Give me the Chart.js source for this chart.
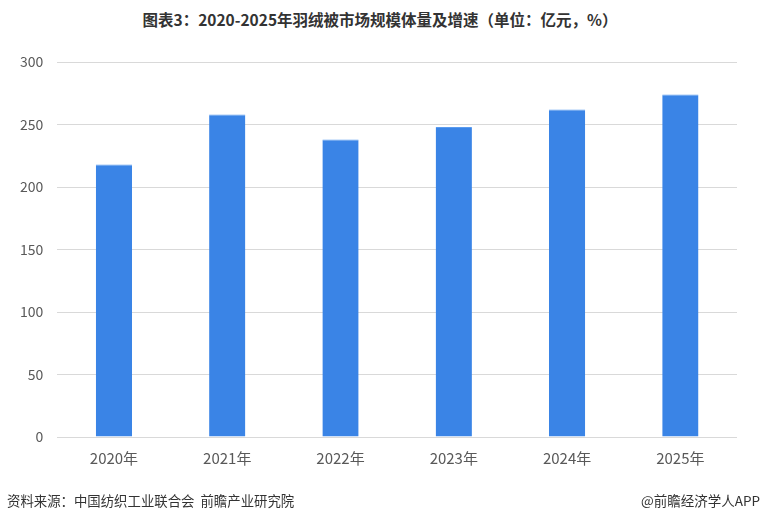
<!DOCTYPE html>
<html>
<head>
<meta charset="utf-8">
<script src="https://cdn.jsdelivr.net/npm/chart.js@4"></script>
<style>
  body { margin: 0; background: #fff; }
  #wrap { position: relative; width: 760px; height: 523px; overflow: hidden; font-family: "Noto Sans CJK SC", "Noto Sans", sans-serif; }
  #title { position: absolute; top: 8px; left: 0; width: 760px; text-align: center; font-size: 15.5px; font-weight: bold; color: #333; }
  #chartBox { position: absolute; top: 0; left: 0; width: 760px; height: 496px; }
  #src { position: absolute; left: 7px; top: 490px; font-size: 13.4px; color: #333; white-space: pre; }
  #brand { position: absolute; right: 0; top: 490px; font-size: 13.5px; color: #333; }
</style>
</head>
<body>
<div id="wrap">
  <div id="title">图表3：2020-2025年羽绒被市场规模体量及增速（单位：亿元，%）</div>
  <div id="chartBox"><canvas id="c"></canvas></div>
  <div id="src">资料来源：中国纺织工业联合会  前瞻产业研究院</div>
  <div id="brand">@前瞻经济学人APP</div>
</div>
<script>
// 羽绒被市场规模（亿元）
const years = ['2020年', '2021年', '2022年', '2023年', '2024年', '2025年'];
const marketSize = [218, 258, 238, 248, 262, 274];
const yTicks = [0, 50, 100, 150, 200, 250, 300];

const tickColor = '#595959';

new Chart(document.getElementById('c'), {
  type: 'bar',
  data: {
    labels: years,
    datasets: [{
      data: marketSize,
      backgroundColor: '#3a84e6',
      borderColor: '#5a9bef',
      borderWidth: { top: 1, left: 0, right: 0, bottom: 0 },
      categoryPercentage: 1,
      barPercentage: 0.32
    }]
  },
  options: {
    responsive: true,
    maintainAspectRatio: false,
    animation: false,
    layout: { padding: { top: 62, left: 6, right: 23, bottom: 25 } },
    plugins: { legend: { display: false }, tooltip: { enabled: false } },
    scales: {
      x: {
        grid: { display: false },
        border: { display: false },
        ticks: { color: tickColor, font: { family: 'Noto Sans CJK SC', size: 15 }, padding: 4 }
      },
      y: {
        min: 0,
        max: 300,
        afterBuildTicks: axis => { axis.ticks = yTicks.map(v => ({ value: v })); },
        grid: { color: '#d9d9d9', drawTicks: false },
        border: { display: false },
        ticks: { color: tickColor, font: { family: 'Noto Sans CJK SC', size: 14 }, padding: 14 }
      }
    }
  }
});
</script>
</body>
</html>
